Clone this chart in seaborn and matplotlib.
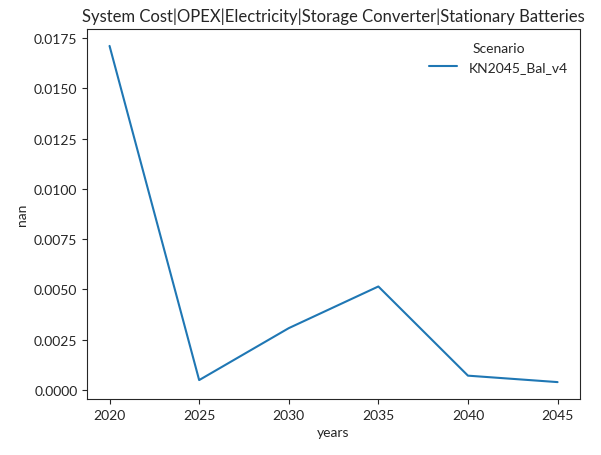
import matplotlib
matplotlib.use("Agg")
import matplotlib.pyplot as plt
import seaborn as sns
import pandas as pd

years = [2020, 2025, 2030, 2035, 2040, 2045]
values = [0.0171, 0.0005, 0.00308, 0.00515, 0.00072, 0.0004]
scenario = ["KN2045_Bal_v4"] * len(years)

sns.set_style("ticks")
plt.rcParams["font.family"] = ["Lato", "DejaVu Sans"]

df = pd.DataFrame({"years": years, "nan": values, "Scenario": scenario})

fig, ax = plt.subplots(figsize=(6.01, 4.56), dpi=100)
sns.lineplot(data=df, x="years", y="nan", hue="Scenario", ax=ax)
ax.set_title("System Cost|OPEX|Electricity|Storage Converter|Stationary Batteries", fontsize=12)
ax.set_yticks([0.0, 0.0025, 0.005, 0.0075, 0.01, 0.0125, 0.015, 0.0175])
ax.set_yticklabels([f"{v:.4f}" for v in ax.get_yticks()])
sns.move_legend(ax, "upper right", frameon=False)

fig.subplots_adjust(left=0.145, right=0.965, top=0.934, bottom=0.123)
fig.savefig("out.png", dpi=100)
